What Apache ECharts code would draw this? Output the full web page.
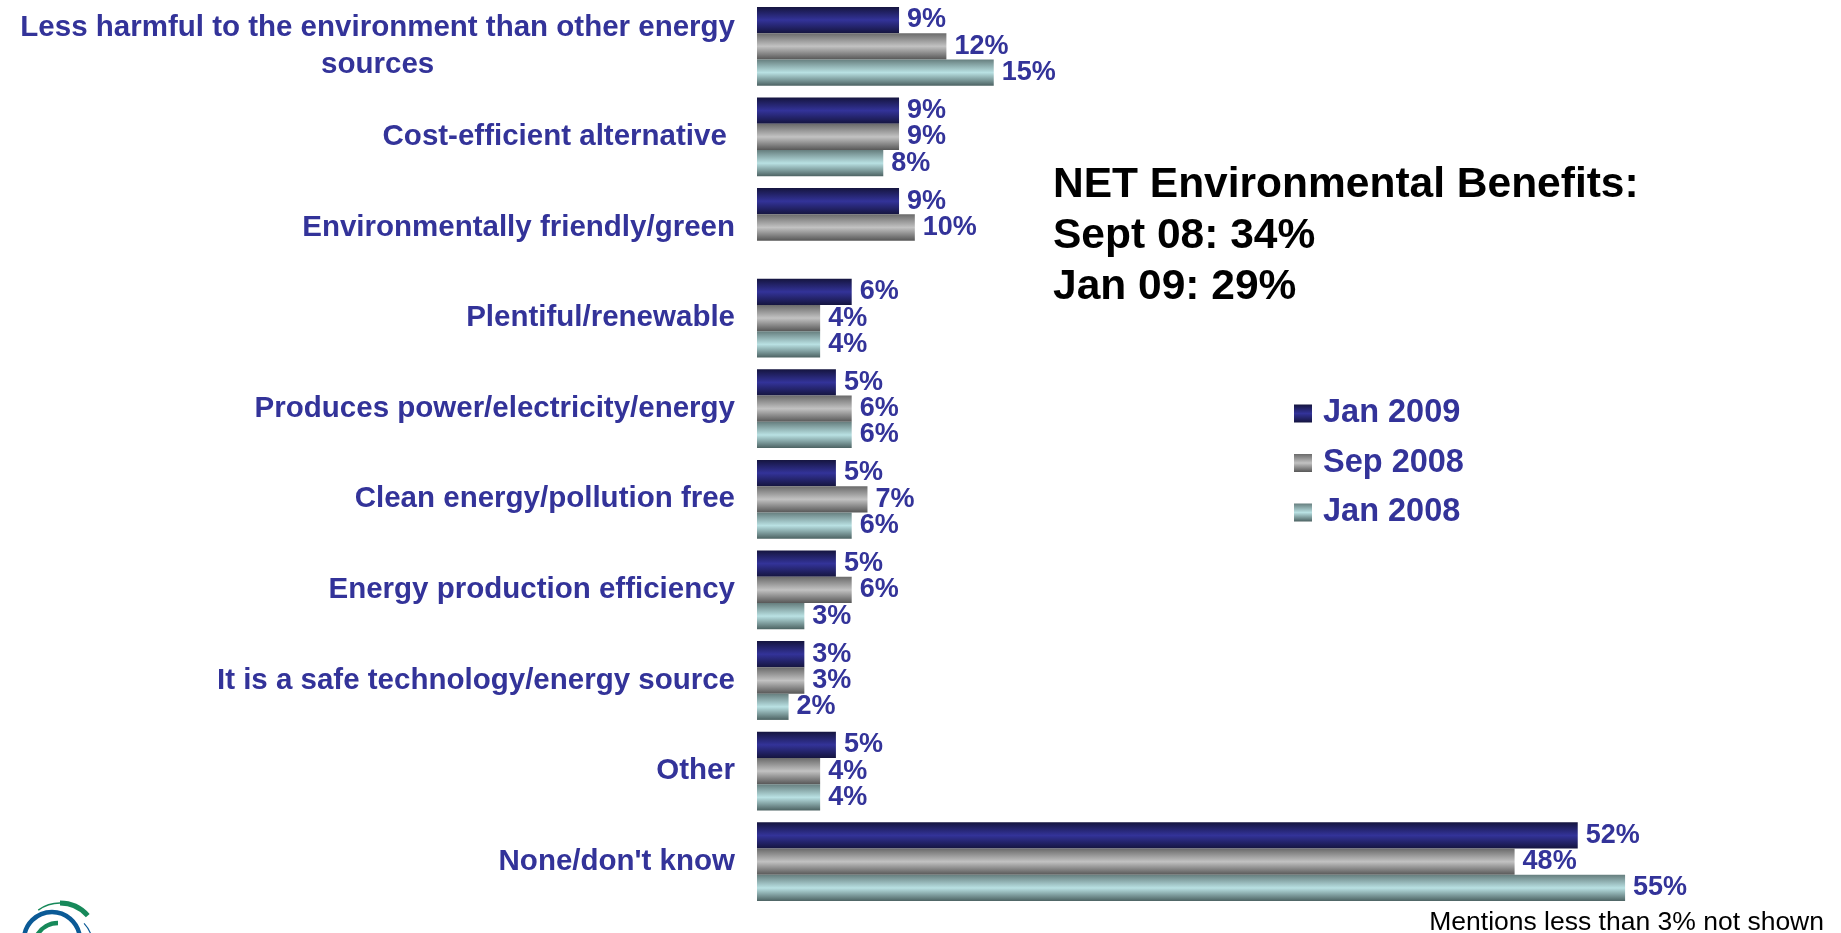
<!DOCTYPE html>
<html>
<head>
<meta charset="utf-8">
<title>Reasons - nuclear energy</title>
<script src="https://cdn.jsdelivr.net/npm/echarts@6/dist/echarts.min.js"></script>
<style>
    html, body { margin: 0; padding: 0; background: #ffffff; }
    #chart { width: 1841px; height: 933px; }
</style>
</head>
<body>
<div id="chart"></div>
<script>
    // categories, top to bottom
    var categories = [
        'Less harmful to the environment than other energy\nsources',
        'Cost-efficient alternative ',
        'Environmentally friendly/green',
        'Plentiful/renewable',
        'Produces power/electricity/energy',
        'Clean energy/pollution free',
        'Energy production efficiency',
        'It is a safe technology/energy source',
        'Other',
        "None/don't know"
    ];

    var seriesNames = ['Jan 2009', 'Sep 2008', 'Jan 2008'];

    // values in %
    var jan2009 = [9, 9, 9, 6, 5, 5, 5, 3, 5, 52];
    var sep2008 = [12, 9, 10, 4, 6, 7, 6, 3, 4, 48];
    var jan2008 = [15, 8, null, 4, 6, 6, 3, 2, 4, 55];

    var noteLines = ['NET Environmental Benefits:', 'Sept 08: 34%', 'Jan 09: 29%'];
    var footnote = 'Mentions less than 3% not shown';

    var FONT = '"Liberation Sans", Arial, Helvetica, sans-serif';
    var BLUE_TEXT = '#333399';

    // shiny bar fill, dark at the edges and light in the middle
    function shine(edgeTop, mid, edgeBottom) {
        return new echarts.graphic.LinearGradient(0, 0, 0, 1, [
            { offset: 0, color: edgeTop },
            { offset: 0.5, color: mid },
            { offset: 1, color: edgeBottom }
        ]);
    }

    var fills = [
        shine('#15153f', '#333399', '#15153f'),
        shine('#6a6a6a', '#c2c2c2', '#575757'),
        shine('#667e7e', '#b9e1e3', '#4c6262')
    ];

    function makeSeries(name, values, fill) {
        return {
            name: name,
            type: 'bar',
            data: values,
            barGap: '0%',
            barCategoryGap: '13%',
            itemStyle: { color: fill },
            label: {
                show: true,
                position: 'right',
                distance: 8,
                formatter: '{c}%',
                color: BLUE_TEXT,
                fontFamily: FONT,
                fontWeight: 'bold',
                fontSize: 27
            },
            emphasis: { disabled: true },
            animation: false
        };
    }

    var chart = echarts.init(document.getElementById('chart'), null, { renderer: 'canvas' });

    var option = {
        backgroundColor: '#ffffff',
        animation: false,
        grid: {
            left: 757,
            right: 137,
            top: 1,
            bottom: 26,
            containLabel: false,
            outerBoundsMode: 'none'
        },
        xAxis: {
            type: 'value',
            min: 0,
            max: 60,
            show: false
        },
        yAxis: {
            type: 'category',
            data: categories,
            inverse: true,
            axisLine: { show: false },
            axisTick: { show: false },
            splitLine: { show: false },
            axisLabel: {
                interval: 0,
                margin: 22,
                align: 'right',
                formatter: function (value) {
                    // every line centred inside the right-aligned block
                    return value.split('\n').map(function (s) {
                        return '{c|' + s + '}';
                    }).join('\n');
                },
                rich: {
                    c: {
                        align: 'center',
                        color: BLUE_TEXT,
                        fontFamily: FONT,
                        fontWeight: 'bold',
                        fontSize: 29.5,
                        lineHeight: 37
                    }
                }
            }
        },
        legend: {
            data: seriesNames,
            orient: 'vertical',
            left: 1289,
            top: 392,
            itemWidth: 18,
            itemHeight: 18,
            itemGap: 16.5,
            icon: 'rect',
            selectedMode: false,
            textStyle: {
                color: BLUE_TEXT,
                fontFamily: FONT,
                fontWeight: 'bold',
                fontSize: 32.5,
                lineHeight: 32,
                padding: [0, 0, 0, 6]
            }
        },
        series: [
            makeSeries(seriesNames[0], jan2009, fills[0]),
            makeSeries(seriesNames[1], sep2008, fills[1]),
            makeSeries(seriesNames[2], jan2008, fills[2])
        ],
        graphic: [
            {
                type: 'text',
                left: 1053,
                top: 160,
                silent: true,
                style: {
                    text: noteLines.join('\n'),
                    fill: '#000000',
                    font: 'bold 42.5px ' + FONT,
                    lineHeight: 51
                }
            },
            {
                type: 'text',
                right: 17,
                top: 909,
                silent: true,
                style: {
                    text: footnote,
                    fill: '#000000',
                    font: '26.5px ' + FONT
                }
            },
            // logo, only its top shows at the bottom-left corner
            {
                type: 'group',
                silent: true,
                children: [
                    {
                        type: 'arc',
                        shape: { cx: 60, cy: 940, r: 37, startAngle: -Math.PI * 0.5, endAngle: -Math.PI * 0.23 },
                        style: { stroke: '#17895a', lineWidth: 5, fill: null }
                    },
                    {
                        type: 'arc',
                        shape: { cx: 60, cy: 940, r: 37, startAngle: -Math.PI * 0.70, endAngle: -Math.PI * 0.5 },
                        style: { stroke: '#17895a', lineWidth: 1.5, fill: null }
                    },
                    {
                        type: 'arc',
                        shape: { cx: 52, cy: 940, r: 28, startAngle: Math.PI, endAngle: Math.PI * 1.95 },
                        style: { stroke: '#0b5a96', lineWidth: 4.5, fill: null }
                    },
                    {
                        type: 'arc',
                        shape: { cx: 60, cy: 946, r: 33, startAngle: -Math.PI * 0.24, endAngle: -Math.PI * 0.06 },
                        style: { stroke: '#0b5a96', lineWidth: 1.2, fill: null }
                    },
                    {
                        type: 'arc',
                        shape: { cx: 58, cy: 947, r: 24, startAngle: -Math.PI * 0.83, endAngle: -Math.PI * 0.5 },
                        style: { stroke: '#17895a', lineWidth: 4.5, fill: null }
                    }
                ]
            }
        ]
    };

    chart.setOption(option);
</script>
</body>
</html>
